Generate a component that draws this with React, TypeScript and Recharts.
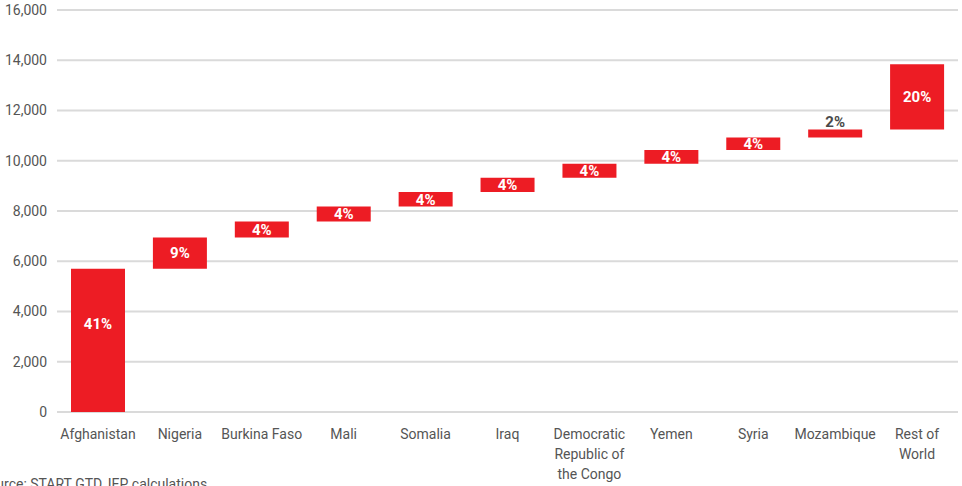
import React from "react";
import { BarChart, Bar, XAxis, YAxis, CartesianGrid, LabelList } from "recharts";

const categories = [
  "Afghanistan",
  "Nigeria",
  "Burkina Faso",
  "Mali",
  "Somalia",
  "Iraq",
  "Democratic Republic of the Congo",
  "Yemen",
  "Syria",
  "Mozambique",
  "Rest of World",
];

const tickLines: string[][] = [
  ["Afghanistan"],
  ["Nigeria"],
  ["Burkina Faso"],
  ["Mali"],
  ["Somalia"],
  ["Iraq"],
  ["Democratic", "Republic of", "the Congo"],
  ["Yemen"],
  ["Syria"],
  ["Mozambique"],
  ["Rest of", "World"],
];

const increments = [5700, 1250, 630, 600, 580, 560, 560, 550, 500, 310, 2600];
const shareLabels = ["41%", "9%", "4%", "4%", "4%", "4%", "4%", "4%", "4%", "2%", "20%"];
const labelInside = [true, true, true, true, true, true, true, true, true, false, true];
const labelAt: (number | null)[] = [3500, null, null, null, null, null, null, null, null, null, null];

const yTicks = [0, 2000, 4000, 6000, 8000, 10000, 12000, 14000, 16000];

const bases: number[] = [];
increments.reduce((acc, v) => {
  bases.push(acc);
  return acc + v;
}, 0);

const data = categories.map((name, i) => ({
  name,
  base: bases[i],
  value: increments[i],
  label: shareLabels[i],
  inside: labelInside[i],
  labelAt: labelAt[i],
  lines: tickLines[i],
}));

const FONT = "Roboto, 'Noto Sans', sans-serif";
const RED = "#ED1C24";

const XTick = (props: any) => {
  const { x, y, payload } = props;
  const lines = tickLines[payload.index] || [payload.value];
  return (
    <text x={x} y={y} textAnchor="middle" fill="#555" fontSize={14} fontFamily={FONT}>
      {lines.map((l: string, i: number) => (
        <tspan key={i} x={x} y={y + 19 + i * 20}>
          {l}
        </tspan>
      ))}
    </text>
  );
};

const BarLabel = (props: any) => {
  const { x, y, width, height, index } = props;
  const d = data[index];
  const cx = x + width / 2;
  if (!d.inside) {
    return (
      <text x={cx} y={y - 3} textAnchor="middle" fill="#4a4a4a" fontSize={15} fontWeight={700} fontFamily={FONT}>
        {d.label}
      </text>
    );
  }
  let cy = y + height / 2;
  if (d.labelAt != null) {
    cy = y + height * (1 - (d.labelAt - d.base) / d.value);
  }
  return (
    <text x={cx} y={cy} dy="0.36em" textAnchor="middle" fill="#fff" fontSize={15} fontWeight={700} fontFamily={FONT}>
      {d.label}
    </text>
  );
};

export default function App() {
  return (
    <div style={{ position: "absolute", left: 0, top: 0, width: 962, height: 486, overflow: "hidden", background: "#fff" }}>
      <BarChart
        width={962}
        height={486}
        data={data}
        margin={{ top: 10, right: 4, left: 0, bottom: 0 }}
        barSize={54}
      >
        <CartesianGrid vertical={false} stroke="#dadada" strokeWidth={2} />
        <XAxis
          dataKey="name"
          height={74}
          axisLine={false}
          tickLine={false}
          interval={0}
          tick={<XTick />}
        />
        <YAxis
          width={57}
          domain={[0, 16000]}
          ticks={yTicks}
          axisLine={false}
          tickLine={false}
          tickMargin={4}
          tickFormatter={(v: number) => v.toLocaleString("en-US")}
          tick={{ fill: "#555", fontSize: 14, fontFamily: FONT }}
          interval={0}
        />
        <Bar dataKey="base" stackId="w" fill="transparent" isAnimationActive={false} />
        <Bar dataKey="value" stackId="w" fill={RED} isAnimationActive={false}>
          <LabelList dataKey="label" content={<BarLabel />} />
        </Bar>
      </BarChart>
      <div
        style={{
          position: "absolute",
          left: -20,
          top: 476,
          fontFamily: FONT,
          fontSize: 14,
          color: "#555",
          whiteSpace: "nowrap",
        }}
      >
        Source: START GTD, IEP calculations
      </div>
    </div>
  );
}
